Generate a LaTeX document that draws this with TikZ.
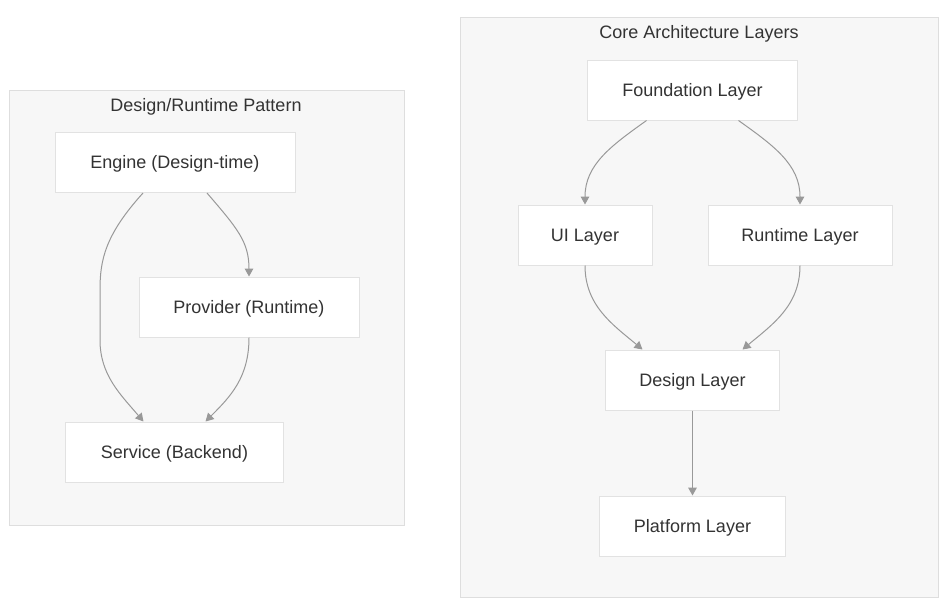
\documentclass[tikz,border=0pt]{standalone}
\usepackage{fontspec}
\setmainfont{Liberation Sans}
\usetikzlibrary{arrows.meta, positioning, calc}

\definecolor{clusterfill}{HTML}{F7F7F7}
\definecolor{clusterline}{HTML}{DEDEDE}
\definecolor{boxline}{HTML}{E2E2E2}
\definecolor{edgegray}{HTML}{999999}
\definecolor{textgray}{HTML}{333333}

\begin{document}
\begin{tikzpicture}[
    x=0.75pt, y=-0.75pt,
    cluster/.style={rectangle, draw=clusterline, fill=clusterfill, line width=0.75pt, inner sep=0pt},
    title/.style={font=\fontsize{13.5}{16}\selectfont, text=textgray, inner sep=0pt, text height=9.7pt, text depth=0pt},
    box/.style={rectangle, draw=boxline, fill=white, line width=0.75pt, minimum height=45pt, align=center, font=\fontsize{13.5}{16}\selectfont, text=textgray, inner sep=0pt, text height=9.7pt, text depth=0pt},
    arrow/.style={-{Triangle[length=6pt, width=6.5pt]}, edgegray, line width=0.75pt}
]
\useasboundingbox (0,0) rectangle (952,608);

% clusters
\node[cluster, minimum width=296.25pt, minimum height=326.25pt] (pattern_box) at (206.5,307.5) {};
\node[title] (pattern_label) at (206,105) {Design/Runtime Pattern};
\node[cluster, minimum width=358.5pt, minimum height=435pt] (layers_box) at (699,307) {};
\node[title] (layers_label) at (699,32) {Core Architecture Layers};

% Design/Runtime Pattern
\node[box, minimum width=180pt] (engine) at (175,162.5) {Engine (Design-time)};
\node[box, minimum width=165pt] (provider) at (249,307) {Provider (Runtime)};
\node[box, minimum width=163pt] (service) at (174.5,452) {Service (Backend)};

\draw[arrow] ($(engine.south)+(32,0)$) .. controls +(30,35) and +(0,-35) .. (provider.north);
\draw[arrow] ($(engine.south)+(-32,0)$) .. controls +(-38,42) and +(0,-30) .. (100,290)
    -- (100,340) .. controls +(0,35) and +(-23,-27) .. ($(service.north)+(-31,0)$);
\draw[arrow] (provider.south) .. controls +(0,40) and +(25,-25) .. ($(service.north)+(31,0)$);

% Core Architecture Layers
\node[box, minimum width=157pt] (foundation) at (692.5,90) {Foundation Layer};
\node[box, minimum width=100.5pt] (ui_layer) at (585,235) {UI Layer};
\node[box, minimum width=138pt] (runtime_layer) at (800,235) {Runtime Layer};
\node[box, minimum width=130pt] (design_layer) at (692.5,380) {Design Layer};
\node[box, minimum width=139.5pt, below=63.75pt of design_layer] (platform_layer) {Platform Layer};

\draw[arrow] ($(foundation.south)+(-46,0)$) .. controls +(-35,25) and +(0,-40) .. (ui_layer.north);
\draw[arrow] ($(foundation.south)+(46,0)$) .. controls +(35,25) and +(0,-40) .. (runtime_layer.north);
\draw[arrow] (ui_layer.south) .. controls +(0,40) and +(-30,-25) .. ($(design_layer.north)+(-50,0)$);
\draw[arrow] (runtime_layer.south) .. controls +(0,40) and +(30,-25) .. ($(design_layer.north)+(50,0)$);
\draw[arrow] (design_layer) -- (platform_layer);

\end{tikzpicture}
\end{document}
